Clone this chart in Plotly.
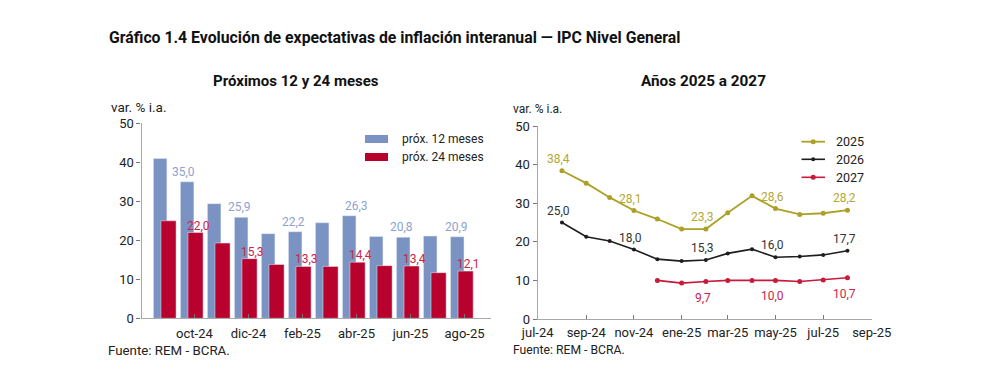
import plotly.graph_objects as go

# ---------------- data ----------------
bar_months = ["sep-24", "oct-24", "nov-24", "dic-24", "ene-25", "feb-25",
              "mar-25", "abr-25", "may-25", "jun-25", "jul-25", "ago-25"]
prox_12 = [41.0, 35.0, 29.4, 25.9, 21.7, 22.2, 24.5, 26.3, 21.0, 20.8, 21.1, 20.9]
prox_24 = [25.0, 22.0, 19.3, 15.3, 13.8, 13.3, 13.3, 14.4, 13.5, 13.4, 11.7, 12.1]
bar_label_idx = [1, 3, 5, 7, 9, 11]

line_dates = ["2024-08-01", "2024-09-01", "2024-10-01", "2024-11-01", "2024-12-01",
              "2025-01-01", "2025-02-01", "2025-03-01", "2025-04-01", "2025-05-01",
              "2025-06-01", "2025-07-01", "2025-08-01"]
exp_2025 = [38.4, 35.2, 31.5, 28.1, 25.9, 23.3, 23.3, 27.5, 31.9, 28.6, 27.1, 27.4, 28.2]
exp_2026 = [25.0, 21.3, 20.2, 18.0, 15.5, 15.0, 15.3, 17.0, 18.1, 16.0, 16.2, 16.6, 17.7]
exp_2027 = [None, None, None, None, 10.0, 9.3, 9.7, 10.0, 10.0, 10.0, 9.7, 10.1, 10.7]
label_idx_2025 = [0, 3, 6, 9, 12]
label_idx_2026 = [0, 3, 6, 9, 12]
label_idx_2027 = [6, 9, 12]

line_tick_dates = ["2024-07-01", "2024-09-01", "2024-11-01", "2025-01-01",
                   "2025-03-01", "2025-05-01", "2025-07-01", "2025-09-01"]
line_tick_text = ["jul-24", "sep-24", "nov-24", "ene-25", "mar-25", "may-25", "jul-25", "sep-25"]

# ---------------- style ----------------
W, H = 992, 386
FONT = "Roboto"
BLUE = "#7b93c2"
RED = "#b8022d"
BLUE_LBL = "#8ea2d0"
RED_LBL = "#c8254a"
OLIVE = "#aca026"
OLIVE_LBL = "#b3a832"
BLACK = "#1e1e1e"
RED2 = "#c81a3a"
AXIS = "#a8a8a8"
TXT = "#222222"


def px(x):
    return x / W


def py(y):
    return 1 - y / H


fig = go.Figure()

fig.add_trace(go.Bar(x=bar_months, y=prox_12, marker_color=BLUE, offset=-0.52, width=0.5,
                     name="próx. 12 meses", showlegend=False, xaxis="x", yaxis="y"))
fig.add_trace(go.Bar(x=bar_months, y=prox_24, marker_color=RED, offset=-0.24, width=0.56,
                     name="próx. 24 meses", showlegend=False, xaxis="x", yaxis="y"))

line_series = [("2025", exp_2025, OLIVE, 1.8, 5), ("2026", exp_2026, BLACK, 1.6, 4),
               ("2027", exp_2027, RED2, 1.6, 5)]
for name, vals, col, lw, ms in line_series:
    fig.add_trace(go.Scatter(x=line_dates, y=vals, mode="lines+markers", name=name, showlegend=False,
                             line=dict(color=col, width=lw), marker=dict(color=col, size=ms),
                             xaxis="x2", yaxis="y2"))

ann = []
# bar labels
blue_shift = [-11, -9, -9, 0, -9, -8]
for k, i in enumerate(bar_label_idx):
    ann.append(dict(x=bar_months[i], y=prox_12[i], xref="x", yref="y",
                    text=f"{prox_12[i]:.1f}".replace(".", ","), showarrow=False,
                    xshift=blue_shift[k], yshift=10, font=dict(color=BLUE_LBL, size=12, family=FONT)))
    ann.append(dict(x=bar_months[i], y=prox_24[i], xref="x", yref="y",
                    text=f"{prox_24[i]:.1f}".replace(".", ","), showarrow=False,
                    xshift=4, yshift=7, font=dict(color=RED_LBL, size=12, family=FONT)))

for idx_list, vals, col, ys in [(label_idx_2025, exp_2025, OLIVE_LBL, 12),
                                (label_idx_2026, exp_2026, "#333333", 12),
                                (label_idx_2027, exp_2027, RED_LBL, -16)]:
    for i in idx_list:
        ann.append(dict(x=line_dates[i], y=vals[i], xref="x2", yref="y2",
                        text=f"{vals[i]:.1f}".replace(".", ","), showarrow=False,
                        xshift=-3, yshift=ys, font=dict(color=col, size=12, family=FONT)))

# titles and notes
ann.append(dict(x=px(107), y=py(37), xref="paper", yref="paper", xanchor="left", yanchor="middle",
                text="<b>Gráfico 1.4 Evolución de expectativas de inflación interanual — IPC Nivel General</b>",
                showarrow=False, font=dict(size=15.8, color="#111", family=FONT)))
ann.append(dict(x=px(296), y=py(81), xref="paper", yref="paper", xanchor="center", yanchor="middle",
                text="<b>Próximos 12 y 24 meses</b>", showarrow=False,
                font=dict(size=15, color="#111", family=FONT)))
ann.append(dict(x=px(703), y=py(81), xref="paper", yref="paper", xanchor="center", yanchor="middle",
                text="<b>Años 2025 a 2027</b>", showarrow=False,
                font=dict(size=15.3, color="#111", family=FONT)))
for xx, yy, fs in [(109, 107, 13.5), (511, 109, 12)]:
    ann.append(dict(x=px(xx), y=py(yy), xref="paper", yref="paper", xanchor="left", yanchor="middle",
                    text="var. % i.a.", showarrow=False, font=dict(size=fs, color=TXT, family=FONT)))
for xx, fs in [(106, 13.3), (511, 12.2)]:
    ann.append(dict(x=px(xx), y=py(350), xref="paper", yref="paper", xanchor="left", yanchor="middle",
                    text="Fuente: REM - BCRA.", showarrow=False, font=dict(size=fs, color=TXT, family=FONT)))

# custom legend for bars
shapes = []
for (yc, col, name) in [(139, BLUE, "próx. 12 meses"), (157, RED, "próx. 24 meses")]:
    shapes.append(dict(type="rect", xref="paper", yref="paper", x0=px(365), x1=px(388),
                       y0=py(yc + 4), y1=py(yc - 4), fillcolor=col, line=dict(width=0)))
    ann.append(dict(x=px(400), y=py(yc), xref="paper", yref="paper", xanchor="left", yanchor="middle",
                    text=name, showarrow=False, font=dict(size=12, color=TXT, family=FONT)))

# custom legend for lines
for (yc, (name, vals, col, lw, ms)) in zip([141.7, 159.3, 177.3], line_series):
    shapes.append(dict(type="line", xref="paper", yref="paper", x0=px(801.5), x1=px(825),
                       y0=py(yc), y1=py(yc), line=dict(color=col, width=lw)))
    r = ms / 2
    shapes.append(dict(type="circle", xref="paper", yref="paper", x0=px(813.2 - r), x1=px(813.2 + r),
                       y0=py(yc + r), y1=py(yc - r), fillcolor=col, line=dict(width=0)))
    ann.append(dict(x=px(834), y=py(yc), xref="paper", yref="paper", xanchor="left", yanchor="middle",
                    text=name, showarrow=False, font=dict(size=12.5, color=TXT, family=FONT)))

axis_common = dict(showline=True, linecolor=AXIS, linewidth=1.3, showgrid=False, zeroline=False,
                   automargin=False,
                   tickfont=dict(size=13, color=TXT, family=FONT), tickcolor="#777", ticklen=4)

fig.update_layout(
    width=W, height=H, margin=dict(l=0, r=0, t=0, b=0, autoexpand=False),
    paper_bgcolor="white", plot_bgcolor="white", showlegend=False,
    barmode="overlay", font=dict(family=FONT, color=TXT),
    xaxis=dict(domain=[px(141.5), px(491)], anchor="y", type="category",
               range=[-0.96, 11.98], tickvals=bar_months[1::2], ticktext=bar_months[1::2],
               ticks="inside", ticklabelstandoff=3, **axis_common),
    yaxis=dict(domain=[py(318.3), py(123.3)], anchor="x", range=[0, 50], dtick=10,
               ticks="outside", **axis_common),
    xaxis2=dict(domain=[px(537.7), px(871.7)], anchor="y2", type="date",
                range=[line_tick_dates[0], line_tick_dates[-1]],
                tickvals=line_tick_dates, ticktext=line_tick_text, ticks="inside",
                ticklabelstandoff=1, **axis_common),
    yaxis2=dict(domain=[py(319), py(126)], anchor="x2", range=[0, 50], dtick=10,
                ticks="outside", **axis_common),
    annotations=ann, shapes=shapes,
)

fig.write_html("out.html", config={"displayModeBar": False},
               post_script="document.body.style.margin='0';")
